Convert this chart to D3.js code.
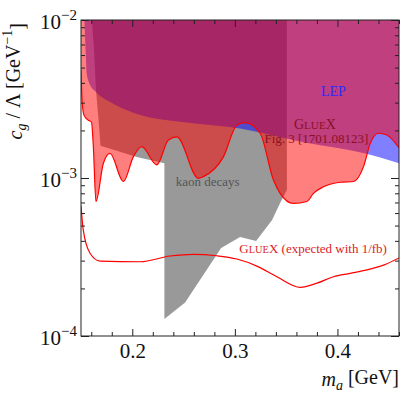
<!DOCTYPE html>
<html>
<head>
<meta charset="utf-8">
<script src="https://cdn.jsdelivr.net/npm/d3@7"></script>
<style>
  body { margin: 0; background: #fff; }
  text { font-family: "Liberation Serif", "DejaVu Serif", serif; }
</style>
</head>
<body>
<svg width="407" height="396"></svg>
<script>
// GlueX Fig. 3 lower boundary [m_a, c_g/Lambda]
var glueXFig3 = [
  [0.150, 4.8e-3], [0.151, 3.12e-3], [0.1529, 2.5e-3], [0.1568, 2.33e-3], [0.1602, 2.26e-3],
  [0.1620, 1.6e-3], [0.1646, 7.1e-4], [0.1718, 1.24e-3], [0.1783, 1.43e-3], [0.1913, 9.5e-4],
  [0.2010, 1.36e-3], [0.2092, 1.58e-3], [0.2239, 1.21e-3], [0.2352, 1.74e-3], [0.2434, 1.82e-3],
  [0.2644, 9.95e-4], [0.2693, 1.02e-3], [0.2888, 1.36e-3], [0.3019, 2.16e-3], [0.3100, 2.24e-3],
  [0.3246, 1.92e-3], [0.3376, 9.7e-4], [0.3441, 8.0e-4], [0.3571, 6.9e-4], [0.3702, 7.1e-4],
  [0.3766, 8.0e-4], [0.3864, 8.8e-4], [0.4027, 9.4e-4], [0.4157, 9.5e-4], [0.4254, 1.18e-3],
  [0.4320, 1.66e-3], [0.4400, 1.92e-3], [0.4482, 1.87e-3], [0.4600, 1.55e-3]
];

// LEP lower boundary
var lep = [
  [0.1533, 1e-2], [0.1545, 6.4e-3], [0.1555, 4.6e-3], [0.158, 4.0e-3], [0.1646, 3.5e-3],
  [0.1793, 3.0e-3], [0.2141, 2.44e-3], [0.2466, 2.27e-3], [0.3051, 2.06e-3], [0.3695, 1.67e-3],
  [0.4251, 1.44e-3], [0.4600, 1.24e-3]
];

// kaon decays excluded region (closed polygon)
var kaonDecays = [
  [0.1607, 1e-2], [0.1627, 6.45e-3], [0.1646, 3.6e-3], [0.1671, 2.33e-3], [0.1690, 1.6e-3],
  [0.2043, 1.36e-3], [0.2313, 1.24e-3], [0.2313, 1.28e-4], [0.2515, 1.63e-4], [0.2866, 3.6e-4],
  [0.3051, 4.24e-4], [0.3207, 3.99e-4], [0.3363, 5.42e-4], [0.3441, 6.95e-4], [0.3507, 8.4e-4],
  [0.3507, 1e-2]
];

// GlueX expected reach with 1/fb
var glueXExpected = [
  [0.150, 6.7e-4], [0.1522, 4.69e-4], [0.1588, 3.34e-4], [0.1685, 2.98e-4], [0.2076, 2.95e-4],
  [0.2368, 3.21e-4], [0.2596, 3.29e-4], [0.2824, 3.22e-4], [0.3019, 3.07e-4], [0.3214, 2.77e-4],
  [0.3409, 2.37e-4], [0.3637, 2.03e-4], [0.3800, 2.16e-4], [0.3961, 2.37e-4], [0.4124, 2.49e-4],
  [0.4287, 2.62e-4], [0.4449, 2.81e-4], [0.4600, 3.12e-4]
];

var massMajor = [0.2, 0.3, 0.4];
var massMinor = [0.16, 0.18, 0.22, 0.24, 0.26, 0.28, 0.32, 0.34, 0.36, 0.38, 0.42, 0.44, 0.46];
var massLabels = ["0.2", "0.3", "0.4"];
var couplingMajor = [1e-4, 1e-3, 1e-2];
var couplingMinor = [2e-4, 3e-4, 4e-4, 5e-4, 6e-4, 7e-4, 8e-4, 9e-4,
                     2e-3, 3e-3, 4e-3, 5e-3, 6e-3, 7e-3, 8e-3, 9e-3];
var couplingExponents = ["\u22124", "\u22123", "\u22122"];

var svg = d3.select("svg");
var margin = { left: 81, top: 20, right: 8, bottom: 60 };
var width = +svg.attr("width") - margin.left - margin.right,
    height = +svg.attr("height") - margin.top - margin.bottom;

var container = svg.append("g")
    .attr("transform", "translate(" + margin.left + "," + margin.top + ")");

var x = d3.scaleLinear().domain([0.15, 0.46]).range([0, width]);
var y = d3.scaleLog().domain([1e-4, 1e-2]).range([height, 0]);

svg.append("defs").append("clipPath").attr("id", "plot-clip")
  .append("rect").attr("width", width).attr("height", height);

var plot = container.append("g").attr("clip-path", "url(#plot-clip)");

var topArea = d3.area()
    .x(function (d) { return x(d[0]); })
    .y0(function () { return y(1e-2); })
    .y1(function (d) { return y(d[1]); })
    .curve(d3.curveMonotoneX);

var line = d3.line()
    .x(function (d) { return x(d[0]); })
    .y(function (d) { return y(d[1]); })
    .curve(d3.curveMonotoneX);

// kaon decays
plot.append("path")
    .attr("d", d3.line().x(function (d) { return x(d[0]); }).y(function (d) { return y(d[1]); })(kaonDecays) + "Z")
    .attr("fill", "#999999");

// LEP
plot.append("path")
    .attr("d", topArea(lep))
    .attr("fill", "rgb(0,0,255)")
    .attr("fill-opacity", 0.5);

// GlueX Fig. 3
plot.append("path")
    .attr("d", topArea(glueXFig3))
    .attr("fill", "rgb(255,0,0)")
    .attr("fill-opacity", 0.5);

plot.append("path")
    .attr("d", line(glueXFig3))
    .attr("fill", "none")
    .attr("stroke", "#ff0000")
    .attr("stroke-width", 1.2);

plot.append("path")
    .attr("d", line(glueXExpected))
    .attr("fill", "none")
    .attr("stroke", "#ff0000")
    .attr("stroke-width", 1.2);

// annotations
function smallCaps(sel) {
    sel.append("tspan").text("G");
    sel.append("tspan").attr("font-size", "0.8em").text("LUE");
    sel.append("tspan").text("X");
}

container.append("text")
    .attr("x", x(0.396)).attr("y", y(3.3e-3))
    .attr("text-anchor", "middle")
    .attr("font-size", 14)
    .attr("fill", "#2a2aff")
    .text("LEP");

container.append("text")
    .attr("x", x(0.378)).attr("y", y(2.04e-3))
    .attr("text-anchor", "middle")
    .attr("font-size", 14)
    .attr("fill", "#8a1024")
    .call(smallCaps);

container.append("text")
    .attr("x", x(0.3795)).attr("y", y(1.67e-3))
    .attr("text-anchor", "middle")
    .attr("font-size", 13)
    .attr("fill", "#8a1024")
    .text("Fig. 3 [1701.08123]");

container.append("text")
    .attr("x", x(0.2734)).attr("y", y(8.9e-4))
    .attr("text-anchor", "middle")
    .attr("font-size", 13)
    .attr("fill", "#555555")
    .text("kaon decays");

var expected = container.append("text")
    .attr("x", x(0.3763)).attr("y", y(3.35e-4))
    .attr("text-anchor", "middle")
    .attr("font-size", 13)
    .attr("fill", "#dd2222")
    .call(smallCaps);
expected.append("tspan").text(" (expected with 1/fb)");

// axes (ticks pointing inward, all four sides)
function styleAxis(g) {
    g.select(".domain").remove();
    g.selectAll(".tick line").attr("stroke", "#222");
}

container.append("g").attr("transform", "translate(0," + height + ")")
    .call(d3.axisBottom(x).tickValues(massMajor).tickSize(-7).tickPadding(7)
        .tickFormat(function (d, i) { return massLabels[i]; }))
    .call(styleAxis)
    .selectAll("text").attr("font-size", 21).attr("fill", "#111")
    .style("font-family", "'Liberation Serif', serif");

container.append("g").attr("transform", "translate(0," + height + ")")
    .call(d3.axisBottom(x).tickValues(massMinor).tickSize(-4).tickFormat(""))
    .call(styleAxis);

container.append("g")
    .call(d3.axisTop(x).tickValues(massMajor).tickSize(-7).tickFormat(""))
    .call(styleAxis);
container.append("g")
    .call(d3.axisTop(x).tickValues(massMinor).tickSize(-4).tickFormat(""))
    .call(styleAxis);

var yAxis = container.append("g")
    .call(d3.axisLeft(y).tickValues(couplingMajor).tickSize(-8).tickPadding(4).tickFormat(""))
    .call(styleAxis);
yAxis.selectAll(".tick text").each(function (d, i) {
    var t = d3.select(this)
        .attr("font-size", 21).attr("fill", "#111")
        .attr("dy", "0.4em")
        .style("font-family", "'Liberation Serif', serif");
    t.append("tspan").text("10");
    t.append("tspan").attr("font-size", 15).attr("dy", "-0.6em").text(couplingExponents[i]);
});

container.append("g")
    .call(d3.axisLeft(y).tickValues(couplingMinor).tickSize(-4).tickFormat(""))
    .call(styleAxis);

container.append("g").attr("transform", "translate(" + width + ",0)")
    .call(d3.axisRight(y).tickValues(couplingMajor).tickSize(-8).tickFormat(""))
    .call(styleAxis);
container.append("g").attr("transform", "translate(" + width + ",0)")
    .call(d3.axisRight(y).tickValues(couplingMinor).tickSize(-4).tickFormat(""))
    .call(styleAxis);

container.append("rect")
    .attr("width", width).attr("height", height)
    .attr("fill", "none").attr("stroke", "#222").attr("stroke-width", 1);

// axis titles
var xTitle = svg.append("text")
    .attr("x", margin.left + width).attr("y", 386)
    .attr("text-anchor", "end")
    .attr("font-size", 20).attr("fill", "#111");
xTitle.append("tspan").attr("font-style", "italic").text("m");
xTitle.append("tspan").attr("font-style", "italic").attr("font-size", 14).attr("dy", "0.3em").text("a");
xTitle.append("tspan").attr("dy", "-0.3em").text(" [GeV]");

var yTitle = svg.append("text")
    .attr("transform", "translate(22,23) rotate(-90)")
    .attr("text-anchor", "end")
    .attr("font-size", 20).attr("fill", "#111");
yTitle.append("tspan").attr("font-style", "italic").text("c");
yTitle.append("tspan").attr("font-style", "italic").attr("font-size", 14).attr("dy", "0.3em").text("g");
yTitle.append("tspan").attr("dy", "-0.3em").text(" / \u039B [GeV");
yTitle.append("tspan").attr("font-size", 14).attr("dy", "-0.6em").text("\u22121");
yTitle.append("tspan").attr("dy", "0.6em").text("]");
</script>
</body>
</html>
